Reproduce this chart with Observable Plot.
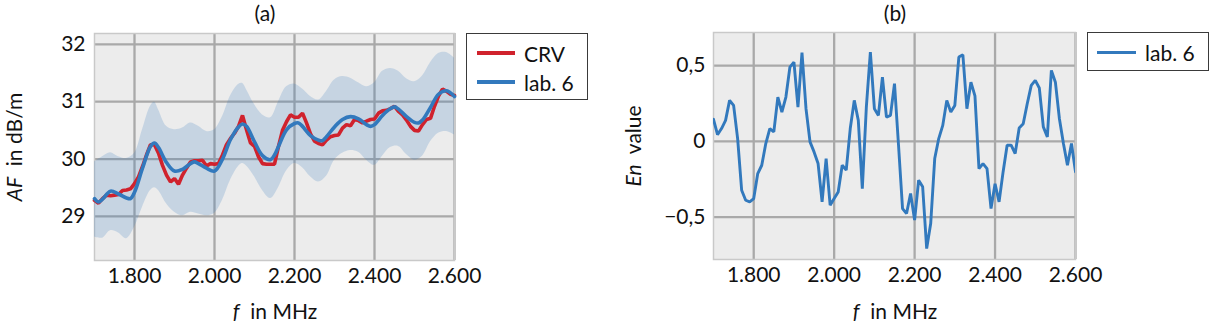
<!DOCTYPE html>
<html><head><meta charset="utf-8">
<script src="https://cdn.jsdelivr.net/npm/d3@7"></script>
<script src="https://cdn.jsdelivr.net/npm/@observablehq/plot@0.6"></script>
<style>
body{margin:0;background:#fff;font-family:Lato,"Open Sans",sans-serif;}
#wrap{position:relative;width:1211px;height:321px;overflow:hidden;background:#fff;}
.abs{position:absolute;}
.t{position:absolute;font-size:21px;color:#111;white-space:nowrap;line-height:1;transform:translate(-50%,-50%);}
.rot{transform:translate(-50%,-50%) rotate(-90deg);}
.leg{position:absolute;border:1px solid #3a3a3a;background:#fff;box-sizing:border-box;}
.sw{position:absolute;height:4px;}
.lt{position:absolute;font-size:21px;color:#111;white-space:nowrap;line-height:1;transform:translateY(-50%);}
i{font-style:italic;}
</style></head><body><div id="wrap"></div>
<script>
// ---------- data ----------
const freq10 = [1700,1710,1720,1730,1740,1750,1760,1770,1780,1790,1800,1810,1820,1830,1840,1850,1860,1870,1880,1890,
1900,1910,1920,1930,1940,1950,1960,1970,1980,1990,2000,2010,2020,2030,2040,2050,2060,2070,2080,2090,
2100,2110,2120,2130,2140,2150,2160,2170,2180,2190,2200,2210,2220,2230,2240,2250,2260,2270,2280,2290,
2300,2310,2320,2330,2340,2350,2360,2370,2380,2390,2400,2410,2420,2430,2440,2450,2460,2470,2480,2490,
2500,2510,2520,2530,2540,2550,2560,2570,2580,2590,2600];

const crv = [29.28,29.23,29.31,29.37,29.36,29.37,29.38,29.45,29.46,29.48,29.57,29.69,29.87,30.07,30.25,30.25,30.10,29.89,29.72,29.60,
29.66,29.56,29.72,29.84,29.95,29.97,29.97,29.98,29.88,29.92,29.91,29.92,30.07,30.25,30.36,30.45,30.57,30.76,30.51,30.28,
30.22,30.04,29.92,29.91,29.91,29.91,30.22,30.50,30.65,30.77,30.73,30.73,30.80,30.63,30.44,30.31,30.27,30.25,30.33,30.39,
30.41,30.42,30.54,30.60,30.58,30.69,30.67,30.63,30.66,30.69,30.70,30.80,30.84,30.85,30.88,30.92,30.83,30.77,30.68,30.57,
30.50,30.49,30.60,30.69,30.71,30.92,31.10,31.22,31.18,31.13,31.11];

const freqLab = [1700,1710,1720,1740,1760,1780,1790,1800,1820,1840,1850,1860,1880,1900,1920,1940,1950,1960,1980,2000,
2020,2040,2060,2070,2080,2100,2120,2140,2150,2160,2180,2200,2210,2220,2240,2260,2270,2280,2300,2320,
2340,2360,2380,2390,2400,2420,2440,2450,2460,2480,2500,2510,2520,2540,2560,2580,2600];
const lab6 = [29.31,29.25,29.30,29.44,29.39,29.32,29.31,29.42,29.84,30.22,30.28,30.20,29.94,29.79,29.82,29.92,29.95,29.92,29.84,29.79,
30.00,30.34,30.56,30.61,30.57,30.30,30.06,29.99,30.07,30.22,30.51,30.62,30.63,30.57,30.41,30.33,30.32,30.39,30.56,30.69,
30.74,30.70,30.60,30.57,30.60,30.76,30.88,30.91,30.87,30.74,30.64,30.63,30.68,30.90,31.13,31.19,31.09];

const freqBand = [1700,1720,1740,1760,1780,1800,1820,1840,1850,1860,1880,1900,1920,1940,1960,1980,2000,2020,2040,2060,
2070,2080,2100,2120,2140,2160,2180,2200,2220,2240,2260,2280,2300,2320,2340,2360,2380,2400,2420,2440,
2460,2480,2500,2520,2540,2560,2580,2600];
const bandUpper = [29.95,30.04,30.11,30.04,30.01,30.10,30.51,30.92,30.99,30.86,30.57,30.51,30.54,30.63,30.57,30.48,30.51,30.74,31.10,31.30,
31.32,31.21,30.95,30.77,30.72,31.00,31.26,31.31,31.22,31.09,31.03,31.18,31.38,31.44,31.41,31.33,31.26,31.33,31.53,31.58,
31.53,31.40,31.35,31.45,31.68,31.84,31.86,31.76];
const bandLower = [28.64,28.62,28.75,28.71,28.61,28.81,29.16,29.45,29.50,29.45,29.22,29.07,29.01,29.07,29.04,29.01,29.05,29.28,29.63,29.87,
29.92,29.88,29.69,29.45,29.31,29.50,29.79,29.92,29.85,29.69,29.60,29.70,29.98,30.10,30.15,30.12,29.98,29.89,30.05,30.20,
30.22,30.08,29.98,30.05,30.30,30.45,30.48,30.42];

const enLab6 = [0.145,0.044,0.084,0.138,0.27,0.237,0.018,-0.323,-0.389,-0.40,-0.378,-0.213,-0.158,-0.015,0.084,0.062,0.292,0.193,0.292,0.49,
0.523,0.226,0.585,0.215,-0.004,-0.07,-0.147,-0.40,-0.114,-0.422,-0.378,-0.334,-0.158,-0.19,0.084,0.27,0.138,-0.312,0.226,0.589,
0.215,0.171,0.424,0.16,0.171,0.38,-0.026,-0.444,-0.477,-0.345,-0.52,-0.257,-0.30,-0.708,-0.543,-0.114,0.018,0.105,0.27,0.193,
0.237,0.556,0.571,0.215,0.39,0.30,-0.18,-0.147,-0.18,-0.444,-0.28,-0.40,-0.202,-0.026,-0.026,-0.081,0.088,0.116,0.248,0.369,
0.402,0.352,0.095,0.029,0.468,0.39,0.149,-0.015,-0.158,-0.015,-0.202];

const xTicks = [1800,2000,2200,2400,2600];
const xTickLabels = ["1.800","2.000","2.200","2.400","2.600"];
const yTicksA = [29,30,31,32];
const yTickLabelsA = ["29","30","31","32"];
const yTicksB = [-0.5,0,0.5];
const yTickLabelsB = ["\u22120,5","0","0,5"];
const seriesNames = ["CRV","lab. 6"];
const titles = ["(a)","(b)"];

// ---------- styles ----------
const RED = "#d0222d", BLUE = "#3279bd", BG = "#ececec", GRID = "#a9a9a9";
const FONT = "Lato, 'Open Sans', sans-serif";

const crvData = freq10.map((f,i)=>({f, v: crv[i]}));
const labData = freqLab.map((f,i)=>({f, v: lab6[i]}));
const bandData = freqBand.map((f,i)=>({f, lo: bandLower[i], hi: bandUpper[i]}));
const enData = freq10.map((f,i)=>({f, v: enLab6[i]}));

function base(yTicks){
  return [
    Plot.frame({fill: BG, stroke: null}),
    Plot.gridX(xTicks, {stroke: GRID, strokeOpacity: 1, strokeWidth: 2.3}),
    Plot.gridY(yTicks, {stroke: GRID, strokeOpacity: 1, strokeWidth: 2.3}),
    Plot.frame({stroke: "#c9c9c9", strokeWidth: 1.5})
  ];
}
function axes(yTicks, yLabels, pad){
  return [
    Plot.axisX({ticks: xTicks, tickFormat: d => xTickLabels[xTicks.indexOf(d)], tickSize: 0, tickPadding: 8, label: null, fontSize: 21}),
    Plot.axisY({ticks: yTicks, tickFormat: d => yLabels[yTicks.indexOf(d)], tickSize: 0, tickPadding: pad, label: null, fontSize: 21})
  ];
}

const plotA = Plot.plot({
  width: 600, height: 321,
  marginLeft: 94, marginRight: 146, marginTop: 33, marginBottom: 61,
  style: {fontFamily: FONT, fontSize: "21px", color: "#111", background: "transparent", overflow: "visible"},
  x: {domain: [1700, 2600]},
  y: {domain: [28.23, 32.19]},
  marks: [
    ...base(yTicksA),
    Plot.areaY(bandData, {x: "f", y1: "lo", y2: "hi", fill: BLUE, fillOpacity: 0.2, curve: "catmull-rom"}),
    Plot.line(crvData, {x: "f", y: "v", stroke: RED, strokeWidth: 3.6, strokeLinejoin: "miter"}),
    Plot.line(labData, {x: "f", y: "v", stroke: BLUE, strokeWidth: 3.6, curve: "catmull-rom"}),
    ...axes(yTicksA, yTickLabelsA, 9)
  ]
});

const plotB = Plot.plot({
  width: 611, height: 321,
  marginLeft: 113, marginRight: 136, marginTop: 32, marginBottom: 62,
  style: {fontFamily: FONT, fontSize: "21px", color: "#111", background: "transparent", overflow: "visible"},
  x: {domain: [1700, 2600]},
  y: {domain: [-0.78, 0.718]},
  marks: [
    ...base(yTicksB),
    Plot.line(enData, {x: "f", y: "v", stroke: BLUE, strokeWidth: 2.9, strokeLinejoin: "miter", clip: true}),
    ...axes(yTicksB, yTickLabelsB, 8)
  ]
});

const wrap = document.getElementById("wrap");
const dA = document.createElement("div"); dA.className = "abs"; dA.style.left = "0px"; dA.style.top = "0px"; dA.appendChild(plotA); wrap.appendChild(dA);
const dB = document.createElement("div"); dB.className = "abs"; dB.style.left = "600px"; dB.style.top = "0px"; dB.appendChild(plotB); wrap.appendChild(dB);

function txt(html, x, y, cls){
  const e = document.createElement("div");
  e.className = "t" + (cls ? " " + cls : "");
  e.innerHTML = html; e.style.left = x + "px"; e.style.top = y + "px";
  wrap.appendChild(e);
}
txt(titles[0], 265, 12);
txt(titles[1], 895, 12);
txt("<i>AF</i>&nbsp; in dB/m", 13, 147, "rot");
txt("<i>En</i>&nbsp; value", 632, 146, "rot");
txt("<i>f</i>&nbsp; in MHz", 275, 310);
txt("<i>f</i>&nbsp; in MHz", 895, 310);

function legend(x, y, w, h, items){
  const box = document.createElement("div");
  box.className = "leg";
  Object.assign(box.style, {left: x + "px", top: y + "px", width: w + "px", height: h + "px"});
  wrap.appendChild(box);
  items.forEach(it => {
    const s = document.createElement("div"); s.className = "sw";
    Object.assign(s.style, {left: (it.x0 - x) + "px", top: (it.y - y - 2) + "px", width: (it.x1 - it.x0) + "px", background: it.color, height: it.h + "px", marginTop: (2 - it.h/2) + "px"});
    box.appendChild(s);
    const t = document.createElement("div"); t.className = "lt";
    Object.assign(t.style, {left: (it.tx - x) + "px", top: (it.y - y) + "px"});
    t.textContent = it.label; box.appendChild(t);
  });
}
legend(466, 33, 122, 67, [
  {label: seriesNames[0], color: RED, x0: 476, x1: 514, y: 52, tx: 523, h: 4},
  {label: seriesNames[1], color: BLUE, x0: 476, x1: 514, y: 81, tx: 523, h: 4}
]);
legend(1087, 32, 122, 39, [
  {label: seriesNames[1], color: BLUE, x0: 1096, x1: 1135, y: 51, tx: 1144, h: 3}
]);
</script></body></html>
